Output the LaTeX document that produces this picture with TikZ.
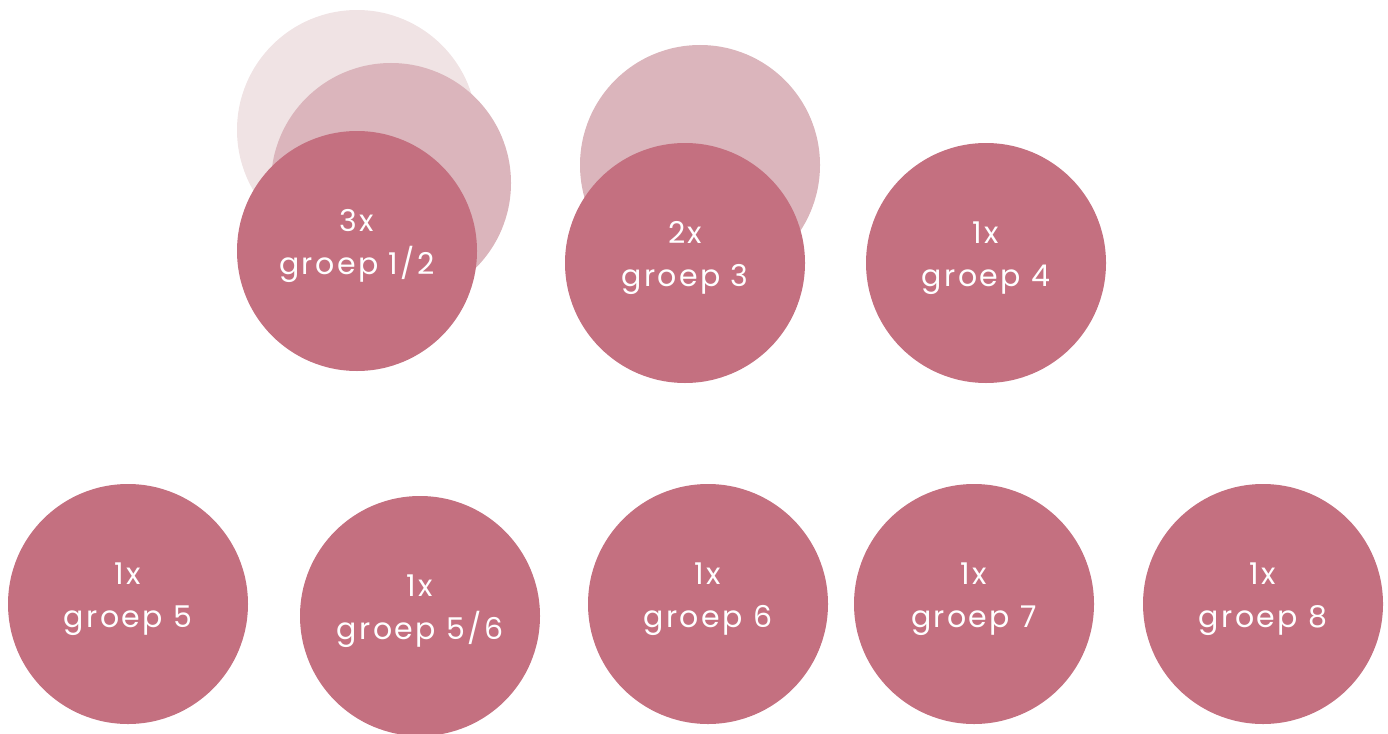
\documentclass[tikz,border=0pt]{standalone}
\usepackage{fontspec}
\setmainfont{Poppins}[LetterSpace=8]
\definecolor{mainpink}{RGB}{196,112,128}
\definecolor{midpink}{RGB}{219,181,188}
\definecolor{faintpink}{RGB}{240,227,228}
\tikzset{
  disc/.style={circle, fill=mainpink, draw=none, minimum size=240pt, inner sep=0pt},
  middisc/.style={disc, fill=midpink},
  faintdisc/.style={disc, fill=faintpink},
  lbl/.style={text=white, align=center, font=\fontsize{30}{43}\selectfont, inner sep=0pt}
}
\begin{document}
\begin{tikzpicture}[x=1pt,y=-1pt]
\useasboundingbox (0,0) rectangle (1388,733);
% top row
\node[faintdisc] (f12) at (357,130) {};
\node[middisc] (m12) at (391,183) {};
\node[disc] (g12) at (357,251) {};
\node[lbl] (t12) at ([yshift=5pt]g12.center) {3x\\groep 1/2};
\node[middisc] (m3) at (700,165) {};
\node[disc] (g3) at (685,263) {};
\node[lbl] (t3) at ([yshift=5pt]g3.center) {2x\\groep 3};
\node[disc] (g4) at (986,263) {};
\node[lbl] (t4) at ([yshift=5pt]g4.center) {1x\\groep 4};
% bottom row
\node[disc] (g5) at (128,604) {};
\node[lbl] (t5) at ([yshift=5pt]g5.center) {1x\\groep 5};
\node[disc] (g56) at (420,616) {};
\node[lbl] (t56) at ([yshift=5pt]g56.center) {1x\\groep 5/6};
\node[disc] (g6) at (708,604) {};
\node[lbl] (t6) at ([yshift=5pt]g6.center) {1x\\groep 6};
\node[disc] (g7) at (974,604) {};
\node[lbl] (t7) at ([yshift=5pt]g7.center) {1x\\groep 7};
\node[disc] (g8) at (1263,604) {};
\node[lbl] (t8) at ([yshift=5pt]g8.center) {1x\\groep 8};
\end{tikzpicture}
\end{document}
